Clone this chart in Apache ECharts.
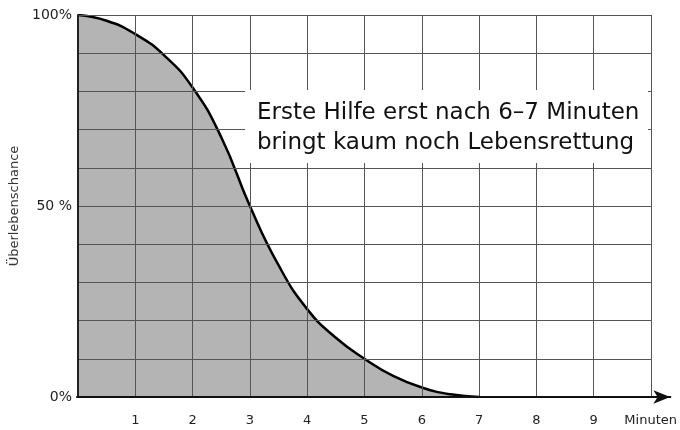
<!DOCTYPE html>
<html>
<head>
<meta charset="utf-8">
<script src="https://cdn.jsdelivr.net/npm/echarts@6/dist/echarts.min.js"></script>
<style>
  html, body { margin: 0; padding: 0; background: #fff; }
  #main { width: 680px; height: 430px; }
</style>
</head>
<body>
<div id="main"></div>
<script>
// Werte
var minutes = [0, 0.5, 1, 1.5, 2, 2.5, 3, 3.5, 4, 4.5, 5, 5.5, 6, 6.5, 7];
var chance = [100, 98.5, 95, 89.5, 81, 68, 50, 34.5, 23, 15.5, 10, 5.5, 2.5, 0.7, 0];
var xTickLabels = ['', '1', '2', '3', '4', '5', '6', '7', '8', '9', ''];
var yTickLabels = { 0: '0%', 50: '50 %', 100: '100%' };
var noteLines = ['Erste Hilfe erst nach 6–7 Minuten', 'bringt kaum noch Lebensrettung'];

var font = 'DejaVu Sans';
var chart = echarts.init(document.getElementById('main'));

var points = [];
for (var i = 0; i < minutes.length; i++) {
    points.push([minutes[i], chance[i]]);
}

var option = {
    animation: false,
    backgroundColor: '#fff',
    grid: [
        { left: 77, right: 29, top: 15, bottom: 33 },
        { left: 77, right: 8, top: 15, bottom: 33 }
    ],
    xAxis: [{
        gridIndex: 0,
        type: 'value',
        min: 0,
        max: 10,
        interval: 1,
        z: 5,
        axisLine: { show: true, lineStyle: { color: '#111', width: 2 } },
        axisTick: { show: false },
        axisLabel: {
            margin: 17,
            color: '#222',
            fontFamily: font,
            fontSize: 13,
            formatter: function (v) { return xTickLabels[Math.round(v)] || ''; }
        },
        splitLine: { show: true, lineStyle: { color: '#555', width: 1 } }
    }, {
        // nur für den Pfeil und "Minuten"
        gridIndex: 1,
        type: 'value',
        min: 0,
        max: 1,
        name: 'Minuten',
        nameLocation: 'end',
        nameGap: -46,
        nameTextStyle: {
            color: '#222',
            fontFamily: font,
            fontSize: 13,
            align: 'left',
            verticalAlign: 'top',
            padding: [17, 0, 0, 0]
        },
        axisLine: {
            show: true,
            symbol: ['none', 'arrow'],
            symbolSize: [10, 17],
            symbolOffset: [0, 0],
            lineStyle: { color: '#111', width: 2 }
        },
        axisTick: { show: false },
        axisLabel: { show: false },
        splitLine: { show: false }
    }],
    yAxis: [{
        gridIndex: 0,
        type: 'value',
        min: 0,
        max: 100,
        interval: 10,
        z: 5,
        name: 'Überlebenschance',
        nameLocation: 'middle',
        nameGap: 57,
        nameRotate: 90,
        nameTextStyle: { color: '#333', fontFamily: font, fontSize: 13 },
        axisLine: { show: true, lineStyle: { color: '#222', width: 2 } },
        axisTick: { show: false },
        axisLabel: {
            margin: 6,
            color: '#222',
            fontFamily: font,
            fontSize: 14,
            formatter: function (v) { return yTickLabels[v] || ''; }
        },
        splitLine: { show: true, lineStyle: { color: '#555', width: 1 } }
    }, {
        gridIndex: 1,
        type: 'value',
        min: 0,
        max: 100,
        show: false
    }],
    series: [{
        type: 'line',
        xAxisIndex: 0,
        yAxisIndex: 0,
        data: points,
        smooth: 0.5,
        showSymbol: false,
        z: 2,
        lineStyle: { color: '#000', width: 2.5 },
        areaStyle: { color: '#b4b4b4', opacity: 1 }
    }],
    graphic: [{
        type: 'rect',
        z: 100,
        shape: { x: 245, y: 90, width: 403, height: 73 },
        style: { fill: '#fff' }
    }, {
        type: 'text',
        z: 101,
        left: 257,
        top: 98,
        style: {
            text: noteLines.join('\n'),
            fill: '#111',
            font: '23px "' + font + '"',
            lineHeight: 30
        }
    }]
};

chart.setOption(option);
</script>
</body>
</html>
